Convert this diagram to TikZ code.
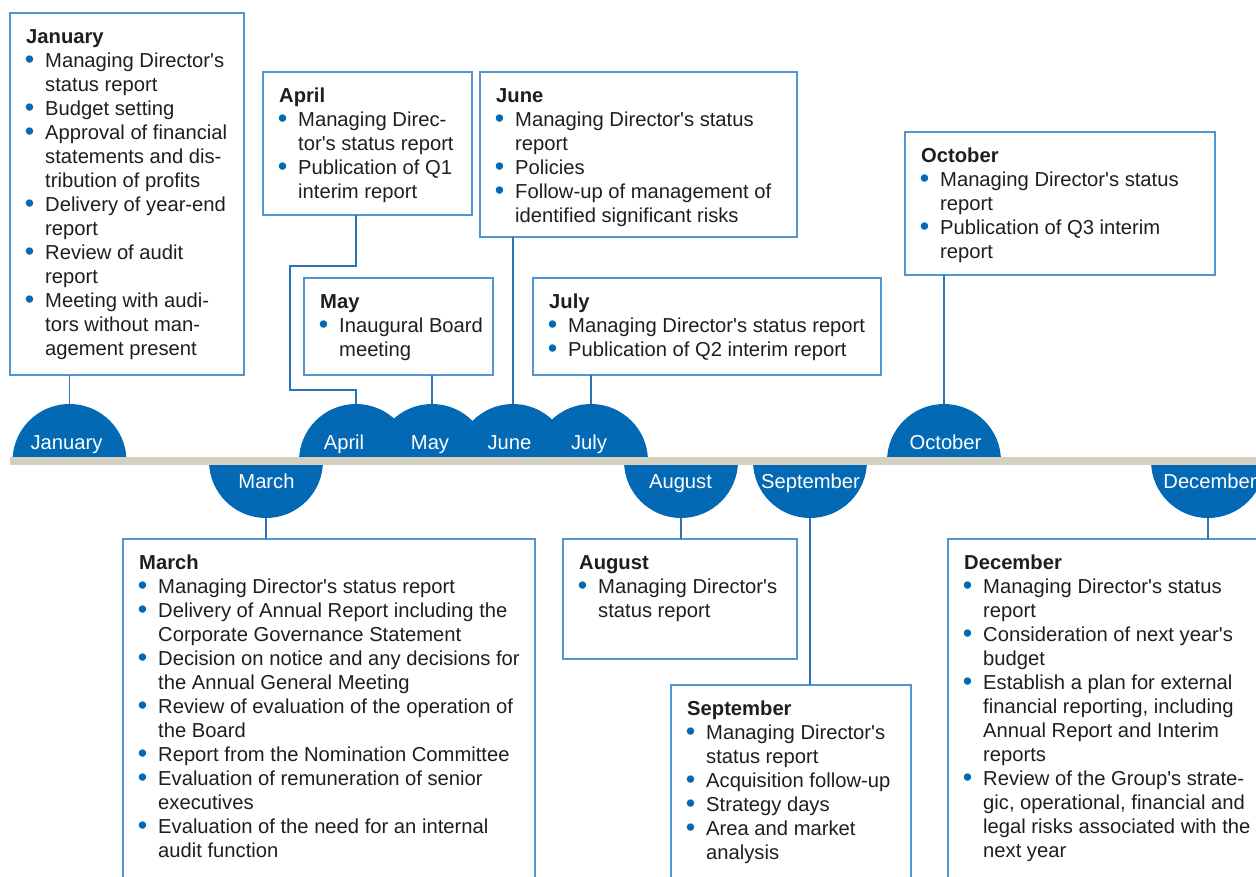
\documentclass[tikz,border=0pt]{standalone}
\usepackage{fontspec}
\setmainfont{Liberation Sans}[Ligatures=TeXOff]

\definecolor{mblue}{RGB}{3,105,180}
\definecolor{boxc}{RGB}{80,150,210}
\definecolor{linec}{RGB}{45,115,185}
\definecolor{barc}{RGB}{212,208,192}
\definecolor{txtc}{RGB}{30,30,30}

% heading line, bullet line and continuation line of a panel
\newcommand\phead[1]{\rule{0pt}{16pt}\textbf{#1}}
\newcommand\pbul{\makebox[19pt][l]{\hspace*{-1.4pt}\smash{\raisebox{-1.3pt}{\fontsize{27}{24}\selectfont\textcolor{mblue}{•}}}}}
\newcommand\pind{\makebox[19pt]{}}

\tikzset{
  panel/.style={draw=boxc, line width=1.2pt, anchor=north west, inner sep=0pt, outer sep=0pt},
  ptext/.style={anchor=north west, inner sep=0pt, align=left, text=txtc,
                font=\fontsize{20.2}{24}\selectfont},
  month/.style={circle, fill=mblue, minimum size=114, inner sep=0pt, outer sep=0pt},
  mlabel/.style={anchor=base, inner sep=0pt, text=white, font=\fontsize{20.2}{24}\selectfont},
  link/.style={draw=linec, line width=1.2pt},
}

\begin{document}
\begin{tikzpicture}[x=1pt, y=-1pt]
\useasboundingbox (0,0) rectangle (1256,876);
\clip (0,0) rectangle (1256,876);

% month discs above the time line
\begin{scope}
  \clip (0,0) rectangle (1256,461);
  \node[month] (janc) at (69.5,461) {};
  \node[month] (aprc) at (356,461) {};
  \node[month] (mayc) at (432,461) {};
  \node[month] (junc) at (513,461) {};
  \node[month] (julc) at (591,461) {};
  \node[month] (octc) at (944,461) {};
\end{scope}
% month discs below the time line
\begin{scope}
  \clip (0,461) rectangle (1256,876);
  \node[month] (marc) at (266,461) {};
  \node[month] (augc) at (681,461) {};
  \node[month] (sepc) at (810,461) {};
  \node[month] (decc) at (1208,461) {};
\end{scope}

% time line
\fill[barc] (10,457) rectangle (1256,465);

% month names
\node[mlabel] (janl) at (66.5,449) {January};
\node[mlabel] (aprl) at (344,449) {April};
\node[mlabel] (mayl) at (430,449) {May};
\node[mlabel] (junl) at (509.5,449) {June};
\node[mlabel] (jull) at (589,449) {July};
\node[mlabel] (octl) at (945.5,449) {October};
\node[mlabel] (marl) at (266.5,488) {March};
\node[mlabel] (augl) at (680.5,488) {August};
\node[mlabel] (sepl) at (810.5,488) {September};
\node[mlabel] (decl) at (1210,488) {December};

% panels
\node[panel, minimum width=234, minimum height=362] (janb) at (10,13) {};
\node[panel, minimum width=209, minimum height=143] (aprb) at (263,72) {};
\node[panel, minimum width=317, minimum height=165] (junb) at (480,72) {};
\node[panel, minimum width=189, minimum height=97]  (mayb) at (304,278) {};
\node[panel, minimum width=348, minimum height=97]  (julb) at (533,278) {};
\node[panel, minimum width=310, minimum height=143] (octb) at (905,132) {};
\node[panel, minimum width=412, minimum height=345] (marb) at (123,539) {};
\node[panel, minimum width=234, minimum height=120] (augb) at (563,539) {};
\node[panel, minimum width=240, minimum height=200] (sepb) at (671,685) {};
\node[panel, minimum width=320, minimum height=345] (decb) at (948,539) {};

% panel texts
\node[ptext] (jant) at ([shift={(16,14)}]janb.north west) {\phead{January}\\
\pbul Managing Director's\\ \pind status report\\
\pbul Budget setting\\
\pbul Approval of financial\\ \pind statements and dis-\\ \pind tribution of profits\\
\pbul Delivery of year-end\\ \pind report\\
\pbul Review of audit\\ \pind report\\
\pbul Meeting with audi-\\ \pind tors without man-\\ \pind agement present};

\node[ptext] (aprt) at ([shift={(16,14)}]aprb.north west) {\phead{April}\\
\pbul Managing Direc-\\ \pind tor's status report\\
\pbul Publication of Q1\\ \pind interim report};

\node[ptext] (junt) at ([shift={(16,14)}]junb.north west) {\phead{June}\\
\pbul Managing Director's status\\ \pind report\\
\pbul Policies\\
\pbul Follow-up of management of\\ \pind identified significant risks};

\node[ptext] (mayt) at ([shift={(16,14)}]mayb.north west) {\phead{May}\\
\pbul Inaugural Board\\ \pind meeting};

\node[ptext] (jult) at ([shift={(16,14)}]julb.north west) {\phead{July}\\
\pbul Managing Director's status report\\
\pbul Publication of Q2 interim report};

\node[ptext] (octt) at ([shift={(16,14)}]octb.north west) {\phead{October}\\
\pbul Managing Director's status\\ \pind report\\
\pbul Publication of Q3 interim\\ \pind report};

\node[ptext] (mart) at ([shift={(16,14)}]marb.north west) {\phead{March}\\
\pbul Managing Director's status report\\
\pbul Delivery of Annual Report including the\\ \pind Corporate Governance Statement\\
\pbul Decision on notice and any decisions for\\ \pind the Annual General Meeting\\
\pbul Review of evaluation of the operation of\\ \pind the Board\\
\pbul Report from the Nomination Committee\\
\pbul Evaluation of remuneration of senior\\ \pind executives\\
\pbul Evaluation of the need for an internal\\ \pind audit function};

\node[ptext] (augt) at ([shift={(16,14)}]augb.north west) {\phead{August}\\
\pbul Managing Director's\\ \pind status report};

\node[ptext] (sept) at ([shift={(16,14)}]sepb.north west) {\phead{September}\\
\pbul Managing Director's\\ \pind status report\\
\pbul Acquisition follow-up\\
\pbul Strategy days\\
\pbul Area and market\\ \pind analysis};

\node[ptext] (dect) at ([shift={(16,14)}]decb.north west) {\phead{December}\\
\pbul Managing Director's status\\ \pind report\\
\pbul Consideration of next year's\\ \pind budget\\
\pbul Establish a plan for external\\ \pind financial reporting, including\\ \pind Annual Report and Interim\\ \pind reports\\
\pbul Review of the Group's strate-\\ \pind gic, operational, financial and\\ \pind legal risks associated with the\\ \pind next year};

% connectors from panels to month discs
\coordinate (aprk) at (290,266);
\coordinate (aprm) at (290,390);
\draw[link] (janc.north |- janb.south) -- (janc.north);
\draw[link] (aprc.north |- aprb.south) |- (aprk) -- (aprm) -| (aprc.north);
\draw[link] (mayc.north |- mayb.south) -- (mayc.north);
\draw[link] (junc.north |- junb.south) -- (junc.north);
\draw[link] (julc.north |- julb.south) -- (julc.north);
\draw[link] (octc.north |- octb.south) -- (octc.north);
\draw[link] (marc.south) -- (marc.south |- marb.north);
\draw[link] (augc.south) -- (augc.south |- augb.north);
\draw[link] (sepc.south) -- (sepc.south |- sepb.north);
\draw[link] (decc.south) -- (decc.south |- decb.north);
\end{tikzpicture}
\end{document}
